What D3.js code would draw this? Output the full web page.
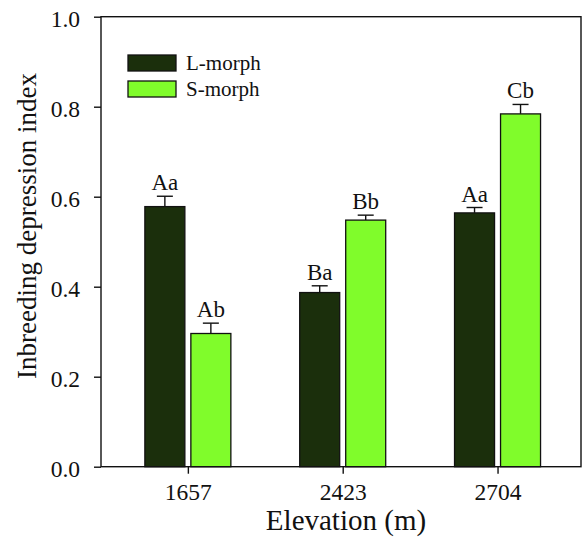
<!DOCTYPE html>
<html>
<head>
<meta charset="utf-8">
<script src="https://cdn.jsdelivr.net/npm/d3@7"></script>
<style>
  body { margin: 0; background: #fff; }
</style>
</head>
<body>
<svg id="chart" width="583" height="538"></svg>
<script>
"use strict";

// data
var elevations = ["1657", "2423", "2704"];
var morphs = ["L-morph", "S-morph"];
var lMorph = [0.578, 0.387, 0.564];
var sMorph = [0.296, 0.548, 0.784];
var lErr = [0.023, 0.015, 0.012];
var sErr = [0.023, 0.011, 0.021];
var lLetters = ["Aa", "Ba", "Aa"];
var sLetters = ["Ab", "Bb", "Cb"];
var yTicks = [0, 0.2, 0.4, 0.6, 0.8, 1.0];

var colors = { "L-morph": "#1b2f0c", "S-morph": "#80fc2b" };
var serif = "'Liberation Serif', serif";

var svg = d3.select("#chart");
// plot box (named so it does not clash with window.top)
var plotL = 101, plotR = 581, plotT = 16.7, plotB = 466.7;

var x = d3.scalePoint()
  .domain(elevations)
  .range([plotL, plotR])
  .padding(0.55)
  .align(0.51);

var sub = d3.scaleBand()
  .domain(morphs)
  .range([-43, 43])
  .paddingInner(6 / 46);

var y = d3.scaleLinear().domain([0, 1]).range([plotB, plotT]);

// one row per bar
var rows = [];
elevations.forEach(function(e, i) {
  rows.push({ elev: e, morph: "L-morph", value: lMorph[i], err: lErr[i], letter: lLetters[i] });
  rows.push({ elev: e, morph: "S-morph", value: sMorph[i], err: sErr[i], letter: sLetters[i] });
});

function barX(d) { return x(d.elev) + sub(d.morph); }
function barMid(d) { return barX(d) + sub.bandwidth() / 2; }

// error bars (upper only)
var eb = svg.append("g").attr("stroke", "#111").attr("stroke-width", 1.4);
eb.selectAll("line.v")
  .data(rows).enter().append("line")
  .attr("class", "v")
  .attr("x1", barMid).attr("x2", barMid)
  .attr("y1", function(d) { return y(d.value); })
  .attr("y2", function(d) { return y(d.value + d.err); });
eb.selectAll("line.c")
  .data(rows).enter().append("line")
  .attr("class", "c")
  .attr("x1", function(d) { return barMid(d) - 8; })
  .attr("x2", function(d) { return barMid(d) + 8; })
  .attr("y1", function(d) { return y(d.value + d.err); })
  .attr("y2", function(d) { return y(d.value + d.err); });

// bars
svg.append("g").selectAll("rect")
  .data(rows).enter().append("rect")
  .attr("x", barX)
  .attr("y", function(d) { return y(d.value); })
  .attr("width", sub.bandwidth())
  .attr("height", function(d) { return y(0) - y(d.value); })
  .attr("fill", function(d) { return colors[d.morph]; })
  .attr("stroke", "#111")
  .attr("stroke-width", 1.3);

// significance letters
svg.append("g").selectAll("text")
  .data(rows).enter().append("text")
  .attr("x", barMid)
  .attr("y", function(d) { return y(d.value + d.err) - 6; })
  .attr("text-anchor", "middle")
  .style("font-size", "23px")
  .text(function(d) { return d.letter; });

// frame
svg.append("rect")
  .attr("x", plotL).attr("y", plotT)
  .attr("width", plotR - plotL).attr("height", plotB - plotT)
  .attr("fill", "none").attr("stroke", "#111").attr("stroke-width", 1.4);

// axes
var xAxis = svg.append("g")
  .attr("transform", "translate(0," + plotB + ")")
  .call(d3.axisBottom(x).tickSize(7).tickSizeOuter(0).tickPadding(10));
var yAxis = svg.append("g")
  .attr("transform", "translate(" + plotL + ",0)")
  .call(d3.axisLeft(y).tickValues(yTicks).tickFormat(d3.format(".1f")).tickSize(7).tickSizeOuter(0).tickPadding(14));

[xAxis, yAxis].forEach(function(a) {
  a.select(".domain").remove();
  a.selectAll("line").attr("stroke", "#111").attr("stroke-width", 1.4);
  a.selectAll("text").style("font-size", "23.5px");
});
yAxis.selectAll("text").attr("dy", "0.43em");

// axis titles
svg.append("text")
  .attr("x", 346)
  .attr("y", 530)
  .attr("text-anchor", "middle")
  .style("font-size", "29px")
  .text("Elevation (m)");

svg.append("text")
  .attr("transform", "translate(36,226) rotate(-90)")
  .attr("text-anchor", "middle")
  .style("font-size", "27px")
  .text("Inbreeding depression index");

// legend
var legend = svg.append("g")
  .attr("class", "legend")
  .attr("transform", "translate(128,55)");

legend.selectAll("rect")
  .data(morphs).enter().append("rect")
  .attr("x", 0)
  .attr("y", function(m, i) { return i * 26; })
  .attr("width", 48)
  .attr("height", 16)
  .attr("fill", function(m) { return colors[m]; })
  .attr("stroke", "#111")
  .attr("stroke-width", 1.3);

legend.selectAll("text")
  .data(morphs).enter().append("text")
  .attr("x", 58)
  .attr("y", function(m, i) { return i * 26 + 14.5; })
  .style("font-size", "21px")
  .text(function(m) { return m; });

// same serif face and ink for every label
svg.selectAll("text")
  .style("font-family", serif)
  .attr("fill", "#111");
</script>
</body>
</html>
